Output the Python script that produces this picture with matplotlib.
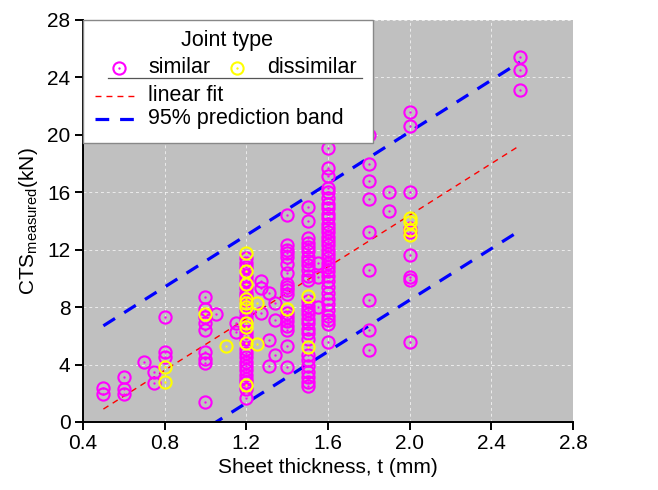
import matplotlib.pyplot as plt
from matplotlib.lines import Line2D
from matplotlib.patches import Rectangle
import numpy as np

plt.rcParams['font.family'] = ['Liberation Sans', 'DejaVu Sans']
plt.rcParams['mathtext.fontset'] = 'custom'
plt.rcParams['mathtext.rm'] = 'Liberation Sans'

# data: thickness (mm) -> measured CTS (kN)
similar_t = [0.5, 0.6, 0.7, 0.75, 0.8, 1.0, 1.05, 1.15, 1.2, 1.27, 1.31, 1.34,
             1.4, 1.5, 1.55, 1.6, 1.8, 1.9, 2.0, 2.54]
similar_cts = [
    [2.35, 1.95],
    [3.1, 2.3, 1.95],
    [4.2],
    [3.45, 2.7],
    [7.3, 4.9, 4.5],
    [8.7, 7.9, 7.3, 6.9, 6.4, 4.9, 4.4, 4.1, 1.4],
    [7.5],
    [6.9, 6.3],
    [11.4, 11.1, 10.8, 10.2, 9.9, 9.3, 9.0, 8.8, 8.5, 7.7, 7.4, 7.1, 6.3, 6.0,
     5.8, 5.1, 4.8, 4.5, 4.2, 3.9, 3.6, 3.3, 3.0, 2.8, 2.3, 1.7],
    [9.8, 9.3, 7.6],
    [9.0, 5.7, 3.9],
    [8.3, 7.1, 4.7],
    [14.4, 12.3, 12.0, 11.8, 11.5, 11.0, 10.4, 9.6, 9.4, 9.2, 8.9, 7.6, 7.3,
     7.0, 6.7, 6.4, 5.3, 3.8],
    [15.0, 14.0, 12.8, 12.5, 12.2, 11.9, 11.5, 11.2, 10.9, 10.6, 10.2, 9.9,
     8.4, 8.1, 7.8, 7.5, 7.2, 6.9, 6.5, 6.2, 5.8, 4.7, 4.3, 3.9, 3.5, 3.1,
     2.8, 2.5],
    [11.1, 10.1, 8.0],
    [19.1, 17.7, 17.1, 16.3, 16.0, 15.6, 15.2, 14.9, 14.5, 14.2, 13.8, 13.5,
     13.2, 12.9, 12.6, 12.3, 12.0, 11.7, 11.4, 11.1, 10.8, 10.5, 10.2, 9.8,
     9.4, 9.0, 8.6, 8.2, 7.8, 7.4, 7.1, 6.8, 5.6],
    [20.0, 18.0, 16.8, 15.5, 13.2, 10.6, 8.5, 6.4, 5.0],
    [16.0, 14.7],
    [21.6, 20.6, 16.0, 13.5, 13.2, 11.6, 10.1, 9.9, 5.6],
    [25.4, 24.5, 23.1],
]

dissimilar_t = [0.8, 1.0, 1.1, 1.2, 1.25, 1.4, 1.5, 2.0]
dissimilar_cts = [
    [3.8, 2.8],
    [7.5],
    [5.3],
    [11.8, 10.5, 9.6, 8.6, 8.3, 8.0, 6.9, 6.6, 5.5, 2.6],
    [8.3, 5.4],
    [7.9],
    [8.8, 5.2],
    [14.2, 13.9, 13.4, 13.05],
]

# fit line and 95% prediction band end points
fit_t = [0.5, 2.54]
fit_cts = [0.9, 19.26]
band_upper = [6.7, 25.07]
band_lower = [-4.95, 13.33]


def flatten(ts, groups):
    x, y = [], []
    for t, vals in zip(ts, groups):
        x += [t] * len(vals)
        y += vals
    return np.array(x), np.array(y)


sx, sy = flatten(similar_t, similar_cts)
dx, dy = flatten(dissimilar_t, dissimilar_cts)

fig = plt.figure(figsize=(6.58, 4.9), dpi=100)
ax = fig.add_axes([0.1261, 0.1388, 0.7447, 0.8204])
ax.set_facecolor('#c0c0c0')

mag = '#ff00ff'
yel = '#ffff00'
red_ls = (0, (4.3, 3.6))
blue_ls = (0, (4.3, 3.4))
ms_ring, mew_ring, ms_dot = 8.8, 1.5, 1.7

ax.plot(fit_t, fit_cts, color='red', lw=1.0, ls=red_ls, zorder=2)
ax.plot(fit_t, band_upper, color='#0000ff', lw=2.3, ls=blue_ls, zorder=2)
ax.plot(fit_t, band_lower, color='#0000ff', lw=2.3, ls=blue_ls, zorder=2)

for x, y, c in [(sx, sy, mag), (dx, dy, yel)]:
    ax.plot(x, y, 'o', ms=ms_ring, mfc='none', mec=c, mew=mew_ring, zorder=3)
    ax.plot(x, y, 'o', ms=ms_dot, mfc=c, mec='none', zorder=3)

ax.set_xlim(0.4, 2.8)
ax.set_ylim(0, 28)
ax.set_xticks(np.arange(0.4, 2.81, 0.4))
ax.set_xticklabels([f'{v:.1f}' for v in np.arange(0.4, 2.81, 0.4)])
ax.set_yticks(range(0, 29, 4))
ax.grid(True, color='white', ls=(0, (3, 3)), lw=0.7, alpha=0.7)
ax.set_axisbelow(True)
for s in ['top', 'right']:
    ax.spines[s].set_visible(False)
for s in ['left', 'bottom']:
    ax.spines[s].set_linewidth(1.4)
ax.tick_params(direction='out', length=6, width=1.4, labelsize=15, pad=3)
ax.set_xlabel('Sheet thickness, t (mm)', fontsize=15, labelpad=3)
ax.set_ylabel(r'CTS$_{\mathrm{measured}}$(kN)', fontsize=15, labelpad=5)

# hand-built legend box
tr = ax.transAxes
ax.add_patch(Rectangle((0, 0.694), 0.592, 0.306, transform=tr, facecolor='white',
                       edgecolor='#888888', lw=1.0, zorder=5, clip_on=False))
fs = 15.5
ax.text(0.294, 0.950, 'Joint type', transform=tr, fontsize=fs, ha='center',
        va='center', zorder=6)
for mx, tx, c, lab in [(0.073, 0.133, mag, 'similar'), (0.314, 0.375, yel, 'dissimilar')]:
    ax.plot([mx], [0.881], 'o', ms=ms_ring, mfc='none', mec=c, mew=mew_ring,
            transform=tr, zorder=6, clip_on=False)
    ax.plot([mx], [0.881], 'o', ms=ms_dot, mfc=c, mec='none', transform=tr, zorder=6,
            clip_on=False)
    ax.text(tx, 0.881, lab, transform=tr, fontsize=fs, va='center', zorder=6)
ax.add_line(Line2D([0.051, 0.569], [0.856, 0.856], transform=tr, color='#555555',
                   lw=0.9, zorder=6))
ax.add_line(Line2D([0.024, 0.112], [0.811, 0.811], transform=tr, color='red',
                   lw=1.0, ls=red_ls, zorder=6))
ax.text(0.133, 0.811, 'linear fit', transform=tr, fontsize=fs, va='center', zorder=6)
ax.add_line(Line2D([0.024, 0.112], [0.754, 0.754], transform=tr, color='#0000ff',
                   lw=2.3, ls=blue_ls, zorder=6))
ax.text(0.133, 0.754, '95% prediction band', transform=tr, fontsize=fs, va='center',
        zorder=6)

plt.savefig('out.png', dpi=100)
